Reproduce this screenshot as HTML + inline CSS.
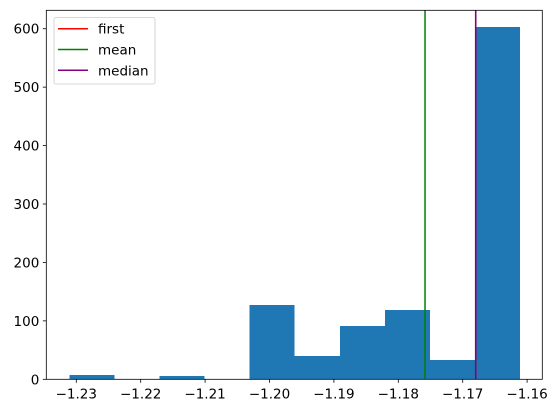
<!DOCTYPE html>
<html><head><meta charset="utf-8"><style>
html,body{margin:0;padding:0;background:#fff;}
svg{display:block;font-family:"DejaVu Sans","Liberation Sans",sans-serif;}
</style></head><body>
<svg id="chart" width="558" height="413" viewBox="0 0 558 413"></svg>
<script>
const binCounts = [7, 0, 6, 0, 127, 40, 91, 119, 33, 603];
const binStart = -1.23109;
const binWidth = 0.0070;
const xTicks = [-1.23, -1.22, -1.21, -1.20, -1.19, -1.18, -1.17, -1.16];
const xTickLabels = ["\u22121.23","\u22121.22","\u22121.21","\u22121.20","\u22121.19","\u22121.18","\u22121.17","\u22121.16"];
const yTicks = [0, 100, 200, 300, 400, 500, 600];
const refNames = ["first", "mean", "median"];
const refValues = [-1.16798, -1.17585, -1.16798];
const refColors = ["red", "green", "purple"];

const L = 46.3, R = 542.3, T = 10.3, B = 379.3;
const xs = v => 76.3 + (v - (-1.23)) * 6440;
const ys = v => B - v * 0.5843;
const svg = document.getElementById('chart');
const NS = 'http://www.w3.org/2000/svg';
function mk(tag, attrs, parent) {
  const e = document.createElementNS(NS, tag);
  for (const k in attrs) e.setAttribute(k, attrs[k]);
  (parent || svg).appendChild(e);
  return e;
}
binCounts.forEach((c, i) => {
  const x0 = xs(binStart + i * binWidth), x1 = xs(binStart + (i + 1) * binWidth);
  const r = mk('rect', {x: x0, y: ys(c), width: x1 - x0, height: ys(0) - ys(c), fill: '#1f77b4', 'shape-rendering': 'crispEdges'});
  
  
});
refValues.forEach((v, i) => {
  const ln = mk('line', {x1: xs(v), x2: xs(v), y1: T, y2: B, stroke: refColors[i], 'stroke-width': 1.5});
  
  
});
const frame = mk('rect', {x: L, y: T, width: R - L, height: B - T, fill: 'none', stroke: '#000', 'stroke-width': 0.8});


xTicks.forEach((t, i) => {
  const x = xs(t);
  mk('line', {x1: x, x2: x, y1: B, y2: B + 3.5, stroke: '#000', 'stroke-width': 0.8});
  const tx = mk('text', {x: x, y: B + 19, 'text-anchor': 'middle', 'font-size': 13.5, fill: '#000'});
  tx.textContent = xTickLabels[i];
  
  
});
yTicks.forEach(t => {
  const y = ys(t);
  mk('line', {x1: L - 3.5, x2: L, y1: y, y2: y, stroke: '#000', 'stroke-width': 0.8});
  const tx = mk('text', {x: L - 7, y: y + 5, 'text-anchor': 'end', 'font-size': 13.5, fill: '#000'});
  tx.textContent = t;
  
  
});
const lg = mk('g', {});


mk('rect', {x: 54, y: 17.5, width: 101, height: 66.5, rx: 2, fill: '#fff', 'fill-opacity': 0.8, stroke: '#ccc', 'stroke-width': 0.8}, lg);
refNames.forEach((n, i) => {
  const y = 28.7 + i * 20.8;
  mk('line', {x1: 58, x2: 88, y1: y, y2: y, stroke: refColors[i], 'stroke-width': 1.5}, lg);
  const tx = mk('text', {x: 98, y: y + 5, 'font-size': 13.5, fill: '#000'}, lg);
  tx.textContent = n;
  
  
});
</script>
</body></html>
